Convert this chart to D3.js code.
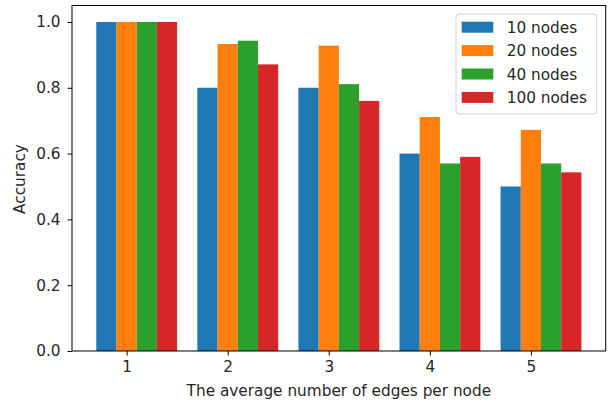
<!DOCTYPE html>
<html>
<head>
<meta charset="utf-8">
<script src="https://cdn.jsdelivr.net/npm/d3@7"></script>
<style>
  html, body { margin: 0; padding: 0; background: #fff; }
  svg { display: block; }
  text { font-family: "DejaVu Sans", sans-serif; fill: #262626; }
</style>
</head>
<body>
<svg id="chart" width="614" height="402"></svg>
<script>
const categories = [1, 2, 3, 4, 5];
const seriesNames = ["10 nodes", "20 nodes", "40 nodes", "100 nodes"];
const nodes10 = [1.0, 0.8, 0.8, 0.6, 0.5];
const nodes20 = [1.0, 0.933, 0.928, 0.711, 0.672];
const nodes40 = [1.0, 0.943, 0.811, 0.57, 0.57];
const nodes100 = [1.0, 0.871, 0.76, 0.59, 0.543];
const yTicks = [0.0, 0.2, 0.4, 0.6, 0.8, 1.0];
const colors = ["#1f77b4", "#ff7f0e", "#2ca02c", "#d62728"];
const barWidth = 0.2;
const offsets = [-0.2, 0, 0.2, 0.4];

const series = [nodes10, nodes20, nodes40, nodes100];
const FS = 15.3;

const svg = d3.select("#chart");
const margin = { left: 72, top: 5.5, right: 614 - 605.7, bottom: 402 - 351 };
const W = 614, H = 402;

const x = d3.scaleLinear().domain([0.46, 5.74]).range([margin.left, W - margin.right]);
const y = d3.scaleLinear().domain([0, 1.05]).range([H - margin.bottom, margin.top]);

// bars
series.forEach((vals, si) => {
  svg.append("g").selectAll("rect")
    .data(vals.map((v, i) => ({ c: categories[i], v })))
    .join("rect")
    .attr("x", d => x(d.c + offsets[si] - barWidth / 2))
    .attr("width", d => x(d.c + offsets[si] + barWidth / 2) - x(d.c + offsets[si] - barWidth / 2))
    .attr("y", d => y(d.v))
    .attr("height", d => y(0) - y(d.v))
    .attr("fill", colors[si]);
});

// axes
const xAxis = d3.axisBottom(x).tickValues(categories).tickFormat(d3.format("d")).tickSize(4.5).tickPadding(5.5);
const yAxis = d3.axisLeft(y).tickValues(yTicks).tickFormat(d3.format(".1f")).tickSize(4.5).tickPadding(7);

const gx = svg.append("g").attr("transform", `translate(0,${y(0)})`).call(xAxis);
const gy = svg.append("g").attr("transform", `translate(${x.range()[0]},0)`).call(yAxis);
[gx, gy].forEach(g => {
  g.select(".domain").remove();
  g.selectAll(".tick line").attr("stroke", "#000").attr("stroke-width", 1);
  g.selectAll(".tick text").attr("font-size", FS).attr("font-family", "DejaVu Sans").attr("fill", "#262626");
});

// frame
svg.append("rect")
  .attr("x", x.range()[0]).attr("y", y.range()[1])
  .attr("width", x.range()[1] - x.range()[0])
  .attr("height", y.range()[0] - y.range()[1])
  .attr("fill", "none").attr("stroke", "#000").attr("stroke-width", 1);

// axis labels
svg.append("text")
  .attr("x", (x.range()[0] + x.range()[1]) / 2)
  .attr("y", 396)
  .attr("text-anchor", "middle")
  .attr("font-size", FS)
  .text("The average number of edges per node");

svg.append("text")
  .attr("transform", `translate(24.5,179) rotate(-90)`)
  .attr("text-anchor", "middle")
  .attr("font-size", FS)
  .text("Accuracy");

// legend
const lg = svg.append("g").attr("transform", "translate(456,14)");
lg.append("rect")
  .attr("width", 140.7).attr("height", 100)
  .attr("rx", 3).attr("ry", 3)
  .attr("fill", "#fff").attr("fill-opacity", 0.8)
  .attr("stroke", "#d0d0d0").attr("stroke-width", 1);
seriesNames.forEach((name, i) => {
  const cy = 13.2 + i * 23.4;
  lg.append("rect")
    .attr("x", 5.7).attr("y", cy - 5.5).attr("width", 31.6).attr("height", 11)
    .attr("fill", colors[i]);
  lg.append("text")
    .attr("x", 50.7).attr("y", cy + 5.6)
    .attr("font-size", FS)
    .text(name);
});
</script>
</body>
</html>
